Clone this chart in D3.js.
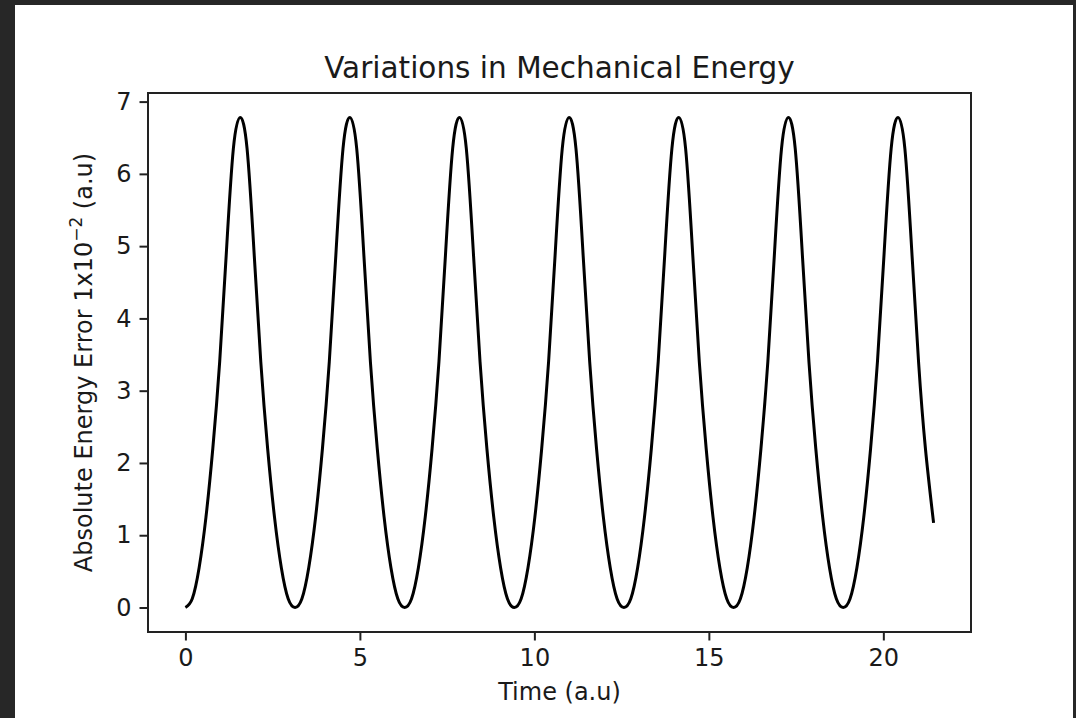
<!DOCTYPE html>
<html>
<head>
<meta charset="utf-8">
<script src="https://cdn.jsdelivr.net/npm/d3@7"></script>
<style>
  html, body { margin: 0; padding: 0; background: #272727; }
  svg { display: block; }
  text { font-family: "DejaVu Sans", sans-serif; fill: #1a1a1a; }
</style>
</head>
<body>
<svg id="chart" width="1076" height="718"></svg>
<script>
// Sampled simulation output: time (a.u) and absolute energy error (x1e-2 a.u)
const time = [
  0, 0.196, 0.393, 0.589, 0.785, 0.982, 1.178, 1.374, 1.571, 1.767, 1.963, 2.160, 2.356, 2.553, 2.749, 2.945,
  3.142, 3.338, 3.534, 3.731, 3.927, 4.123, 4.320, 4.516, 4.712, 4.909, 5.105, 5.301, 5.498, 5.694, 5.890, 6.087,
  6.283, 6.480, 6.676, 6.872, 7.069, 7.265, 7.461, 7.658, 7.854, 8.050, 8.247, 8.443, 8.639, 8.836, 9.032, 9.228,
  9.425, 9.621, 9.817, 10.014, 10.210, 10.407, 10.603, 10.799, 10.996, 11.192, 11.388, 11.585, 11.781, 11.977, 12.174, 12.370,
  12.566, 12.763, 12.959, 13.155, 13.352, 13.548, 13.744, 13.941, 14.137, 14.334, 14.530, 14.726, 14.923, 15.119, 15.315, 15.512,
  15.708, 15.904, 16.101, 16.297, 16.493, 16.690, 16.886, 17.082, 17.279, 17.475, 17.671, 17.868, 18.064, 18.261, 18.457, 18.653,
  18.850, 19.046, 19.242, 19.439, 19.635, 19.831, 20.028, 20.224, 20.420, 20.617, 20.813, 21.009, 21.206, 21.44
];
const energyError = [
  0, 0.12, 0.55, 1.25, 2.2, 3.4, 4.95, 6.35, 6.78, 6.35, 4.95, 3.4, 2.2, 1.25, 0.55, 0.12,
  0, 0.12, 0.55, 1.25, 2.2, 3.4, 4.95, 6.35, 6.78, 6.35, 4.95, 3.4, 2.2, 1.25, 0.55, 0.12,
  0, 0.12, 0.55, 1.25, 2.2, 3.4, 4.95, 6.35, 6.78, 6.35, 4.95, 3.4, 2.2, 1.25, 0.55, 0.12,
  0, 0.12, 0.55, 1.25, 2.2, 3.4, 4.95, 6.35, 6.78, 6.35, 4.95, 3.4, 2.2, 1.25, 0.55, 0.12,
  0, 0.12, 0.55, 1.25, 2.2, 3.4, 4.95, 6.35, 6.78, 6.35, 4.95, 3.4, 2.2, 1.25, 0.55, 0.12,
  0, 0.12, 0.55, 1.25, 2.2, 3.4, 4.95, 6.35, 6.78, 6.35, 4.95, 3.4, 2.2, 1.25, 0.55, 0.12,
  0, 0.12, 0.55, 1.25, 2.2, 3.4, 4.95, 6.35, 6.78, 6.35, 4.95, 3.4, 2.2, 1.17
];
const xTicks = [0, 5, 10, 15, 20];
const yTicks = [0, 1, 2, 3, 4, 5, 6, 7];
const titleText = "Variations in Mechanical Energy";
const xLabel = "Time (a.u)";

const svg = d3.select("#chart");

// figure canvas
svg.append("rect").attr("x", 15).attr("y", 5).attr("width", 1058).attr("height", 720).attr("fill", "#ffffff");

const plot = { left: 148, right: 971, top: 93, bottom: 632 };

// 5% padding around data extent on both axes
const pad = (ext) => { const d = (ext[1] - ext[0]) * 0.05; return [ext[0] - d, ext[1] + d]; };
const x = d3.scaleLinear().domain(pad(d3.extent(time))).range([plot.left, plot.right]);
const y = d3.scaleLinear().domain(pad([0, d3.max(energyError)])).range([plot.bottom, plot.top]);

const data = time.map((t, i) => ({ t, v: energyError[i] }));

// curve (natural cubic spline through the samples)
svg.append("path")
  .datum(data)
  .attr("fill", "none")
  .attr("stroke", "#000")
  .attr("stroke-width", 3)
  .attr("stroke-linejoin", "round")
  .attr("d", d3.line().x(d => x(d.t)).y(d => y(d.v)).curve(d3.curveNatural));

// axes
const xAxis = svg.append("g")
  .attr("transform", `translate(0,${plot.bottom})`)
  .call(d3.axisBottom(x).tickValues(xTicks).tickSize(8.5).tickPadding(8).tickFormat(d3.format("d")));
const yAxis = svg.append("g")
  .attr("transform", `translate(${plot.left},0)`)
  .call(d3.axisLeft(y).tickValues(yTicks).tickSize(8.5).tickPadding(8).tickFormat(d3.format("d")));

[xAxis, yAxis].forEach(g => {
  g.select(".domain").remove();
  g.selectAll(".tick line").attr("stroke", "#222").attr("stroke-width", 2);
  g.selectAll(".tick text").attr("font-size", 24).attr("font-family", "DejaVu Sans").attr("fill", "#1a1a1a");
});

// frame
svg.append("rect")
  .attr("x", plot.left).attr("y", plot.top)
  .attr("width", plot.right - plot.left).attr("height", plot.bottom - plot.top)
  .attr("fill", "none").attr("stroke", "#222").attr("stroke-width", 2);

// title
svg.append("text")
  .attr("x", (plot.left + plot.right) / 2).attr("y", 78)
  .attr("text-anchor", "middle").attr("font-size", 29.5)
  .text(titleText);

// x label
svg.append("text")
  .attr("x", (plot.left + plot.right) / 2).attr("y", 700)
  .attr("text-anchor", "middle").attr("font-size", 24)
  .text(xLabel);

// y label with superscript exponent
const yl = svg.append("text")
  .attr("transform", `translate(92,${(plot.top + plot.bottom) / 2}) rotate(-90)`)
  .attr("text-anchor", "middle").attr("font-size", 24);
yl.append("tspan").text("Absolute Energy Error 1x10");
yl.append("tspan").attr("font-size", 17).attr("dy", -10).text("\u22122");
yl.append("tspan").attr("dy", 10).text(" (a.u)");
</script>
</body>
</html>
